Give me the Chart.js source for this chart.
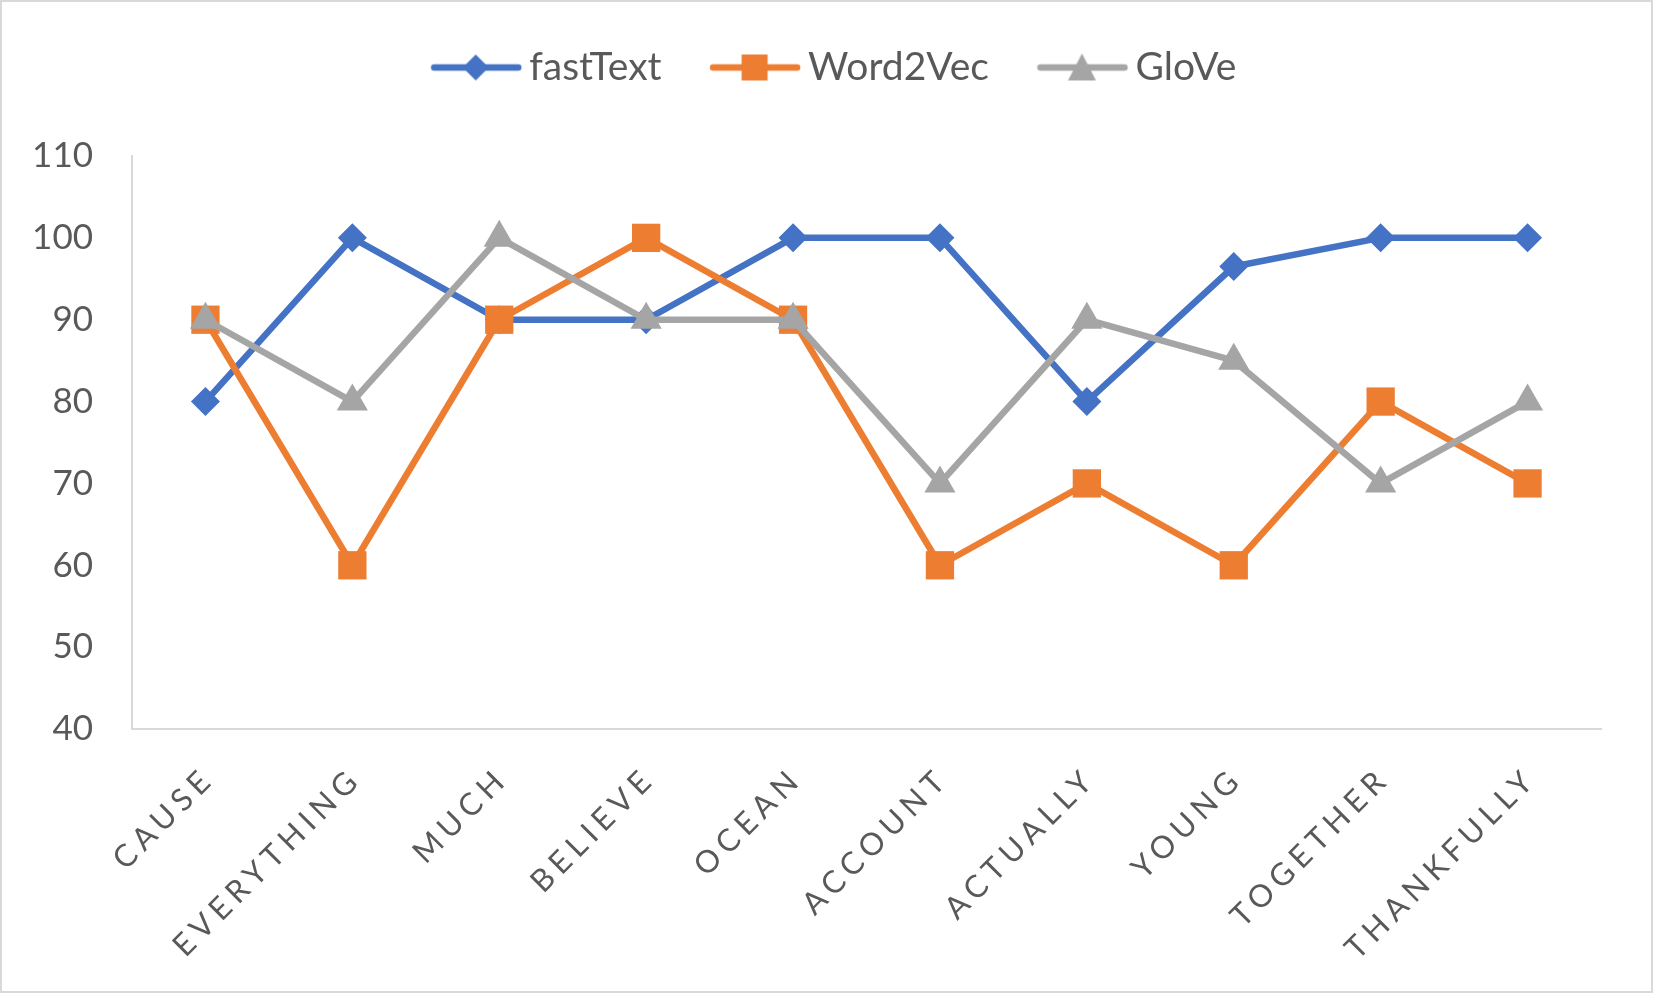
<!doctype html>
<html lang="en">
<head>
<meta charset="utf-8">
<title>Word embedding scores</title>
<style>
  * { margin: 0; padding: 0; }
  body { background: #fff; }
  .chartBox {
    width: 1653px;
    height: 993px;
    box-sizing: border-box;
    border: 2px solid #d9d9d9;
    background: #fff;
    position: relative;
  }
</style>
</head>
<body>
<div class="chartBox"><canvas id="lineChart"></canvas></div>
<script src="https://cdn.jsdelivr.net/npm/chart.js"></script>
<script>
// data
const words = ['CAUSE', 'EVERYTHING', 'MUCH', 'BELIEVE', 'OCEAN', 'ACCOUNT', 'ACTUALLY', 'YOUNG', 'TOGETHER', 'THANKFULLY'];
const fastText = [80, 100, 90, 90, 100, 100, 80, 96.5, 100, 100];
const word2vec = [90, 60, 90, 100, 90, 60, 70, 60, 80, 70];
const glove = [90, 80, 100, 90, 90, 70, 90, 85, 70, 80];
const yMin = 40, yMax = 110, yStep = 10;

const BLUE = '#4472C4', ORANGE = '#ED7D31', GRAY = '#A5A5A5', TEXT = '#595959';

// x labels are letter-spaced like the Excel original
class SpacedCategory extends Chart.CategoryScale {
  drawLabels(area) {
    this.ctx.save();
    this.ctx.letterSpacing = '6px';
    this.ctx.translate(4, 0);
    super.drawLabels(area);
    this.ctx.restore();
  }
}
SpacedCategory.id = 'spacedCategory';
SpacedCategory.defaults = Chart.CategoryScale.defaults;
Chart.register(SpacedCategory);

// legend icon: line segment with the marker in the middle
function legendIcon(color, shape) {
  const c = document.createElement('canvas');
  c.width = 112; c.height = 32;
  const g = c.getContext('2d');
  g.strokeStyle = color; g.fillStyle = color;
  g.lineWidth = 6.5; g.lineCap = 'round';
  g.beginPath(); g.moveTo(21, 16); g.lineTo(105, 16); g.stroke();
  const cx = 62.5;
  g.beginPath();
  if (shape === 'diamond') {
    g.moveTo(cx, 3); g.lineTo(cx + 13, 16); g.lineTo(cx, 29); g.lineTo(cx - 13, 16);
  } else if (shape === 'square') {
    g.rect(cx - 13, 3, 26, 26);
  } else {
    g.moveTo(cx, 2); g.lineTo(cx + 14, 29); g.lineTo(cx - 14, 29);
  }
  g.closePath(); g.fill();
  return c;
}
const icons = [legendIcon(BLUE, 'diamond'), legendIcon(ORANGE, 'square'), legendIcon(GRAY, 'triangle')];

const fixLayout = {
  id: 'fixLayout',
  beforeInit(chart) {
    const lg = chart.legend;
    if (!lg) return;
    const fit = lg.fit;
    lg.fit = function () { fit.call(this); this.height = 154; };
  },
  afterLayout(chart) {
    const lg = chart.legend;
    if (!lg) return;
    lg.left += 31;
    lg.right += 31;
  }
};

const data = {
  labels: words,
  datasets: [{
    label: 'fastText',
    data: fastText,
    borderColor: BLUE,
    backgroundColor: BLUE,
    borderWidth: 6.5,
    pointStyle: 'rectRot',
    pointRadius: 14.5,
    pointBorderWidth: 0,
    order: 2
  }, {
    label: 'Word2Vec',
    data: word2vec,
    borderColor: ORANGE,
    backgroundColor: ORANGE,
    borderWidth: 6.5,
    pointStyle: 'rect',
    pointRadius: 20,
    pointBorderWidth: 0,
    order: 1
  }, {
    label: 'GloVe',
    data: glove,
    borderColor: GRAY,
    backgroundColor: GRAY,
    borderWidth: 6.5,
    pointStyle: 'triangle',
    pointRadius: 18,
    pointBorderWidth: 0,
    order: 0
  }]
};

const config = {
  type: 'line',
  data,
  plugins: [fixLayout],
  options: {
    responsive: true,
    maintainAspectRatio: false,
    animation: false,
    events: [],
    layout: { padding: { left: 0, right: 50, top: 0, bottom: 0 } },
    elements: {
      line: { tension: 0, borderJoinStyle: 'round', borderCapStyle: 'round' }
    },
    plugins: {
      tooltip: { enabled: false },
      legend: {
        position: 'top',
        labels: {
          usePointStyle: true,
          pointStyleWidth: 81,
          padding: 46,
          color: TEXT,
          font: { family: 'Lato', size: 39 },
          sort: (a, b) => a.datasetIndex - b.datasetIndex,
          generateLabels(chart) {
            const items = Chart.defaults.plugins.legend.labels.generateLabels(chart);
            items.forEach(it => { it.pointStyle = icons[it.datasetIndex]; });
            return items;
          }
        }
      }
    },
    scales: {
      x: {
        type: 'spacedCategory',
        offset: true,
        grid: { display: false, drawTicks: false },
        border: { display: true, color: '#d9d9d9', width: 2 },
        ticks: {
          autoSkip: false,
          minRotation: 45,
          maxRotation: 45,
          padding: 31,
          color: TEXT,
          font: { family: 'Lato', size: 31 }
        },
        afterFit(scale) { scale.height = 262; }
      },
      y: {
        min: yMin,
        max: yMax,
        grid: { display: false, drawTicks: false },
        border: { display: true, color: '#d9d9d9', width: 2 },
        ticks: {
          stepSize: yStep,
          padding: 39,
          color: TEXT,
          font: { family: 'Lato', size: 35 }
        },
        afterFit(scale) { scale.width = 130; }
      }
    }
  }
};

const myChart = new Chart(document.getElementById('lineChart'), config);
</script>
</body>
</html>
